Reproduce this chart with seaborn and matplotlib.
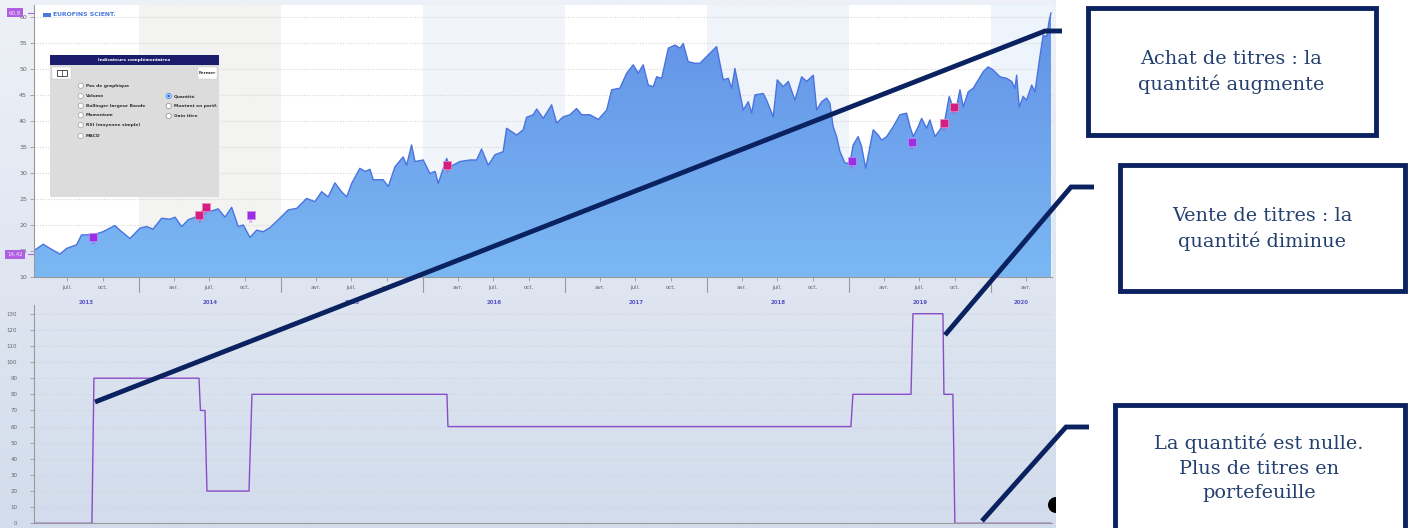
import numpy as np
import matplotlib
matplotlib.use('Agg')
import matplotlib.pyplot as plt
from matplotlib.patches import Rectangle, Circle, Wedge
from matplotlib.colors import LinearSegmentedColormap
import seaborn as sns

# cours du titre (années décimales)
price_years = [
    2013.268, 2013.326, 2013.373, 2013.444, 2013.491, 2013.561, 2013.596, 2013.678, 2013.746, 2013.831,
    2013.866, 2013.937, 2014.007, 2014.054, 2014.099, 2014.160, 2014.218, 2014.254, 2014.301, 2014.347,
    2014.406, 2014.453, 2014.500, 2014.558, 2014.606, 2014.653, 2014.699, 2014.735, 2014.782, 2014.829,
    2014.875, 2014.923, 2014.981, 2015.051, 2015.111, 2015.181, 2015.239, 2015.287, 2015.333, 2015.380,
    2015.427, 2015.463, 2015.498, 2015.556, 2015.592, 2015.627, 2015.650, 2015.720, 2015.756, 2015.803,
    2015.861, 2015.885, 2015.920, 2015.944, 2016.002, 2016.049, 2016.085, 2016.108, 2016.167, 2016.190,
    2016.261, 2016.331, 2016.378, 2016.413, 2016.460, 2016.507, 2016.565, 2016.589, 2016.660, 2016.706,
    2016.730, 2016.777, 2016.801, 2016.847, 2016.906, 2016.942, 2016.988, 2017.035, 2017.082, 2017.118,
    2017.176, 2017.235, 2017.294, 2017.329, 2017.387, 2017.435, 2017.481, 2017.516, 2017.551, 2017.587,
    2017.622, 2017.646, 2017.681, 2017.728, 2017.775, 2017.810, 2017.833, 2017.868, 2017.915, 2017.951,
    2017.998, 2018.068, 2018.115, 2018.150, 2018.174, 2018.197, 2018.256, 2018.291, 2018.315, 2018.338,
    2018.396, 2018.420, 2018.467, 2018.495, 2018.537, 2018.573, 2018.620, 2018.667, 2018.702, 2018.749,
    2018.773, 2018.808, 2018.843, 2018.866, 2018.889, 2018.913, 2018.937, 2018.972, 2019.007, 2019.030,
    2019.065, 2019.089, 2019.118, 2019.148, 2019.171, 2019.206, 2019.230, 2019.266, 2019.312, 2019.359,
    2019.406, 2019.430, 2019.453, 2019.488, 2019.512, 2019.547, 2019.570, 2019.606, 2019.641, 2019.676,
    2019.706, 2019.723, 2019.758, 2019.782, 2019.805, 2019.840, 2019.875, 2019.911, 2019.946, 2019.981,
    2020.016, 2020.063, 2020.111, 2020.146, 2020.169, 2020.181, 2020.199, 2020.227, 2020.251, 2020.287,
    2020.310, 2020.322, 2020.345, 2020.368, 2020.392, 2020.411, 2020.423,
]
price_values = [
    15.2, 16.3, 15.5, 14.4, 15.5, 16.2, 18.1, 18.1, 18.7, 19.9,
    19.0, 17.4, 19.4, 19.7, 19.2, 21.3, 21.1, 21.5, 19.7, 21.0,
    21.6, 22.9, 22.6, 23.1, 21.5, 23.4, 19.7, 20.0, 17.6, 19.0,
    18.7, 19.5, 21.0, 22.9, 23.2, 25.1, 24.5, 26.4, 25.4, 28.1,
    26.4, 25.4, 28.0, 30.9, 30.3, 30.7, 28.7, 28.7, 27.4, 31.2,
    33.1, 31.5, 35.4, 32.2, 32.5, 29.9, 30.3, 28.0, 32.8, 31.2,
    32.2, 32.5, 32.5, 34.6, 31.5, 33.5, 34.1, 38.6, 37.3, 38.3,
    40.7, 41.2, 42.3, 40.5, 43.1, 39.6, 40.8, 41.2, 42.4, 41.2,
    41.2, 40.3, 42.1, 46.0, 46.3, 49.2, 50.8, 49.2, 50.8, 46.9,
    46.6, 48.5, 48.2, 54.0, 54.6, 54.0, 54.9, 51.4, 51.1, 51.1,
    52.4, 54.3, 47.9, 48.2, 46.3, 50.1, 42.1, 43.7, 41.5, 45.0,
    45.3, 44.0, 40.8, 47.9, 46.6, 47.6, 44.0, 48.5, 47.6, 48.8,
    42.1, 43.7, 44.4, 43.4, 38.9, 37.0, 34.1, 31.9, 31.9, 35.4,
    37.0, 35.1, 30.9, 35.1, 38.3, 37.3, 36.3, 37.0, 38.9, 41.2,
    41.5, 38.9, 37.0, 38.9, 40.5, 38.6, 40.2, 37.0, 38.3, 40.2,
    44.7, 43.4, 42.7, 46.0, 42.7, 45.6, 46.3, 47.9, 49.5, 50.4,
    49.8, 48.5, 48.2, 47.6, 46.3, 48.8, 42.7, 44.7, 44.0, 46.9,
    45.6, 47.9, 52.4, 56.5, 56.2, 59.4, 60.8,
]

# quantité détenue
qty_years = [2013.268, 2013.669, 2013.683, 2014.423, 2014.433, 2014.465, 2014.479, 2014.775, 2014.796,
             2016.169, 2016.176, 2019.014, 2019.028, 2019.437, 2019.451, 2019.662, 2019.669, 2019.732,
             2019.746, 2020.423]
qty_values = [0, 0, 90, 90, 70, 70, 20, 20, 80, 80, 60, 60, 80, 80, 130, 130, 80, 80, 0, 0]

# achats (A) / ventes (V)
buy_years = [2013.678, 2014.787, 2019.020, 2019.441]
buy_prices = [17.6, 21.9, 32.3, 35.9]
sell_years = [2014.425, 2014.472, 2016.171, 2019.667, 2019.739]
sell_prices = [21.9, 23.4, 31.5, 39.6, 42.6]

price_ticks = [10, 15, 20, 25, 30, 35, 40, 45, 50, 55, 60]
qty_ticks = [0, 10, 20, 30, 40, 50, 60, 70, 80, 90, 100, 110, 120, 130]
month_names = ['avr.', 'juil.', 'oct.']
month_offsets = [0.247, 0.496, 0.748]
years = [2013, 2014, 2015, 2016, 2017, 2018, 2019, 2020]
shaded_years = [2014, 2016, 2018, 2020]
shade_colors = ['#f3f3f1', '#f1f4f8', '#eff4fa', '#eef4fb']
x_start, x_end = 2013.261, 2020.430

series_name = 'EUROFINS SCIENT.'
max_label, min_label = '60,8', '14,42'
panel_title = 'Indicateurs complémentaires'
left_options = ['Pas de graphique', 'Volume', 'Bollinger largeur Bande', 'Momentum',
                'RSI (moyenne simple)', 'MACD']
right_options = ['Quantité', 'Montant en portf.', 'Gain titre']
notes = ['Achat de titres : la\nquantité augmente',
         'Vente de titres : la\nquantité diminue',
         'La quantité est nulle.\nPlus de titres en\nportefeuille']

sns.set_theme(style='white')
plt.rcParams['font.family'] = ['DejaVu Sans']

W, H = 1408, 528
fig = plt.figure(figsize=(W / 100, H / 100), dpi=100)
fig.patch.set_facecolor('white')


def px_box(x0, y0, x1, y1):
    return [x0 / W, 1 - y1 / H, (x1 - x0) / W, (y1 - y0) / H]


grad = np.linspace(0, 1, 256).reshape(-1, 1)

# fond dégradé de la zone graphique
bg = fig.add_axes(px_box(0, 0, 1056, 528), zorder=0)
bg.imshow(grad, aspect='auto', extent=[0, 1, 0, 1],
          cmap=LinearSegmentedColormap.from_list('bg', ['#eef1f7', '#d2dcec']))
bg.axis('off')

# --- graphique du cours ---
ax = fig.add_axes(px_box(34, 5, 1052, 277), zorder=1)
ax.set_facecolor('white')
for yr, c in zip(shaded_years, shade_colors):
    ax.axvspan(yr, yr + 1, color=c, lw=0, zorder=0)
for t in price_ticks[1:]:
    ax.axhline(t, color='#d6d6d6', ls=(0, (1, 1.5)), lw=0.8, zorder=0.5)

fill = ax.fill_between(price_years, price_values, 10, facecolor='none', edgecolor='none')
img = ax.imshow(grad, aspect='auto', extent=[x_start, x_end, 10, 62.3], zorder=1,
                cmap=LinearSegmentedColormap.from_list('fill', ['#6190e6', '#7bb8f3']))
img.set_clip_path(fill.get_paths()[0], transform=ax.transData)
sns.lineplot(x=price_years, y=price_values, color='#4b73df', lw=1.0, ax=ax,
             estimator=None, sort=False, legend=False, zorder=2)

sns.scatterplot(x=buy_years, y=buy_prices, marker='s', s=28, color='#9b2de2',
                edgecolor='#c98cf2', linewidth=0.5, ax=ax, zorder=4, legend=False)
sns.scatterplot(x=sell_years, y=sell_prices, marker='s', s=28, color='#d41f80',
                edgecolor='#ef8cc0', linewidth=0.5, ax=ax, zorder=4, legend=False)
for x, y in zip(buy_years, buy_prices):
    ax.annotate('A', (x, y), xytext=(0, -4.5), textcoords='offset points', ha='center',
                va='center', fontsize=3.5, color='#a45be6', zorder=4)
for x, y in zip(sell_years, sell_prices):
    ax.annotate('V', (x, y), xytext=(0, -4.5), textcoords='offset points', ha='center',
                va='center', fontsize=3.5, color='#d9479a', zorder=4)

ax.set_xlim(x_start, x_end)
ax.set_ylim(10, 62.3)
ax.set_yticks(price_ticks)
ax.set_yticklabels([str(t) for t in price_ticks])
month_pos, month_lbl = [], []
for yr in years:
    for name, off in zip(month_names, month_offsets):
        if x_start < yr + off < x_end:
            month_pos.append(yr + off)
            month_lbl.append(name)
ax.set_xticks(month_pos)
ax.set_xticklabels(month_lbl)
ax.tick_params(axis='y', left=True, length=3, width=0.6, color='#999999',
               labelsize=4.5, labelcolor='#666666', pad=2)
ax.tick_params(axis='x', bottom=True, length=3, width=0.6, color='#999999',
               labelsize=4, labelcolor='#666666', pad=3)
for side in ['top', 'right']:
    ax.spines[side].set_visible(False)
for side in ['left', 'bottom']:
    ax.spines[side].set_color('#9a9a9a')
    ax.spines[side].set_linewidth(0.8)

xtr = ax.get_xaxis_transform()
for yr in years[1:]:
    ax.plot([yr, yr], [0, -0.055], transform=xtr, clip_on=False, color='#9a9a9a', lw=0.8)
for yr in years:
    lo, hi = max(yr, x_start), min(yr + 1, x_end)
    ax.text((lo + hi) / 2, -0.092, str(yr), transform=xtr, ha='center', va='center',
            fontsize=4, fontweight='bold', color='#5b52c9')

ytr = ax.get_yaxis_transform()
for val, lbl in [(max(price_values), max_label), (min(price_values), min_label)]:
    ax.plot([-0.006, 0], [val, val], transform=ytr, clip_on=False, color='#b060e0', lw=0.8)
    ax.text(-0.0185, val, lbl, transform=ytr, ha='center', va='center', fontsize=4,
            color='#f3e6ff', zorder=5,
            bbox=dict(boxstyle='square,pad=0.35', fc='#b15fe2', ec='none'))

# --- graphique de la quantité ---
ax2 = fig.add_axes(px_box(34, 305, 1052, 523.3), zorder=1)
ax2.set_facecolor('none')
for t in qty_ticks[1:]:
    ax2.axhline(t, color='#cdd3de', ls=(0, (1, 1.5)), lw=0.7, zorder=0.5)
sns.lineplot(x=qty_years, y=qty_values, color='#8a4cc6', lw=1.0, ax=ax2,
             estimator=None, sort=False, legend=False, zorder=2)
ax2.set_xlim(x_start, x_end)
ax2.set_ylim(0, 135.4)
ax2.set_xticks([])
ax2.set_yticks(qty_ticks)
ax2.set_yticklabels([str(t) for t in qty_ticks])
ax2.tick_params(axis='y', left=True, length=3, width=0.6, color='#999999',
                labelsize=4, labelcolor='#666666', pad=9)
for side in ['top', 'right']:
    ax2.spines[side].set_visible(False)
for side in ['left', 'bottom']:
    ax2.spines[side].set_color('#9a9a9a')
    ax2.spines[side].set_linewidth(0.8)

# --- couche d'annotations (coordonnées en pixels) ---
ov = fig.add_axes([0, 0, 1, 1], zorder=5)
ov.set_xlim(0, W)
ov.set_ylim(H, 0)
ov.axis('off')

# légende
ov.add_patch(Rectangle((43, 12.5), 8, 4.5, fc='#4a78e0', ec='none'))
ov.text(53, 15, series_name, fontsize=4.4, fontweight='bold', color='#4a78e0', va='center')

# fenêtre des indicateurs
ov.add_patch(Rectangle((50, 55), 169, 142, fc='#dcdcdc', ec='none'))
ov.add_patch(Rectangle((50, 55), 169, 10, fc='#1b1c6b', ec='none'))
ov.text(134.5, 60, panel_title, color='white', fontsize=3.2, ha='center', va='center',
        fontweight='bold')
ov.add_patch(Rectangle((52, 67), 19, 12, fc='white', ec='#c8c8c8', lw=0.3))
ov.add_patch(Rectangle((56.5, 70), 10, 6, fc='none', ec='#333333', lw=0.6))
ov.plot([61.5, 61.5], [70, 76], color='#333333', lw=0.5)
ov.add_patch(Rectangle((198, 67), 19, 12, fc='white', ec='#c8c8c8', lw=0.3))
ov.text(207.5, 73, 'Fermer', fontsize=3.1, ha='center', va='center', color='#333333',
        fontweight='bold')
for lbl, yy in zip(left_options, [85.7, 96, 105.7, 115.3, 125, 136]):
    ov.add_patch(Circle((80.7, yy), 2.6, fc='white', ec='#8a8a8a', lw=0.4))
    ov.text(86, yy, lbl, fontsize=3.2, va='center', color='#333333', fontweight='bold')
for i, (lbl, yy) in enumerate(zip(right_options, [96, 106, 116])):
    ov.add_patch(Circle((168.7, yy), 2.6, fc='white', ec='#8a8a8a' if i else '#1a73e8', lw=0.5))
    if i == 0:
        ov.add_patch(Circle((168.7, yy), 1.5, fc='#1a73e8', ec='none'))
    ov.text(173.5, yy, lbl, fontsize=3.2, va='center', color='#333333', fontweight='bold')

ov.add_patch(Wedge((1056, 505), 8, 90, 270, fc='black', ec='none'))

# encadrés explicatifs
navy = '#0b2260'
for xs, ys in [([95, 1045, 1062], [402, 31, 31]),
               ([945, 1071, 1094], [335, 187, 187]),
               ([982, 1066, 1089], [521, 427, 427])]:
    ov.plot(xs, ys, color=navy, lw=3.5, solid_capstyle='butt', solid_joinstyle='miter')

boxes = [(1088, 8, 287.5, 126.5), (1119.5, 164.7, 285.5, 125.8), (1114.5, 404.5, 290.5, 140)]
centers = [(1231.5, 72), (1262, 229), (1259, 468)]
for (bx, by, bw, bh), (cx, cy), txt in zip(boxes, centers, notes):
    ov.add_patch(Rectangle((bx, by), bw, bh, fc='white', ec=navy, lw=3.5, clip_on=False))
    ov.text(cx, cy, txt, ha='center', va='center', fontsize=13.9, color='#24406f',
            family=['DejaVu Serif'], linespacing=1.45)

fig.savefig('out.png', dpi=100, facecolor=fig.get_facecolor())
